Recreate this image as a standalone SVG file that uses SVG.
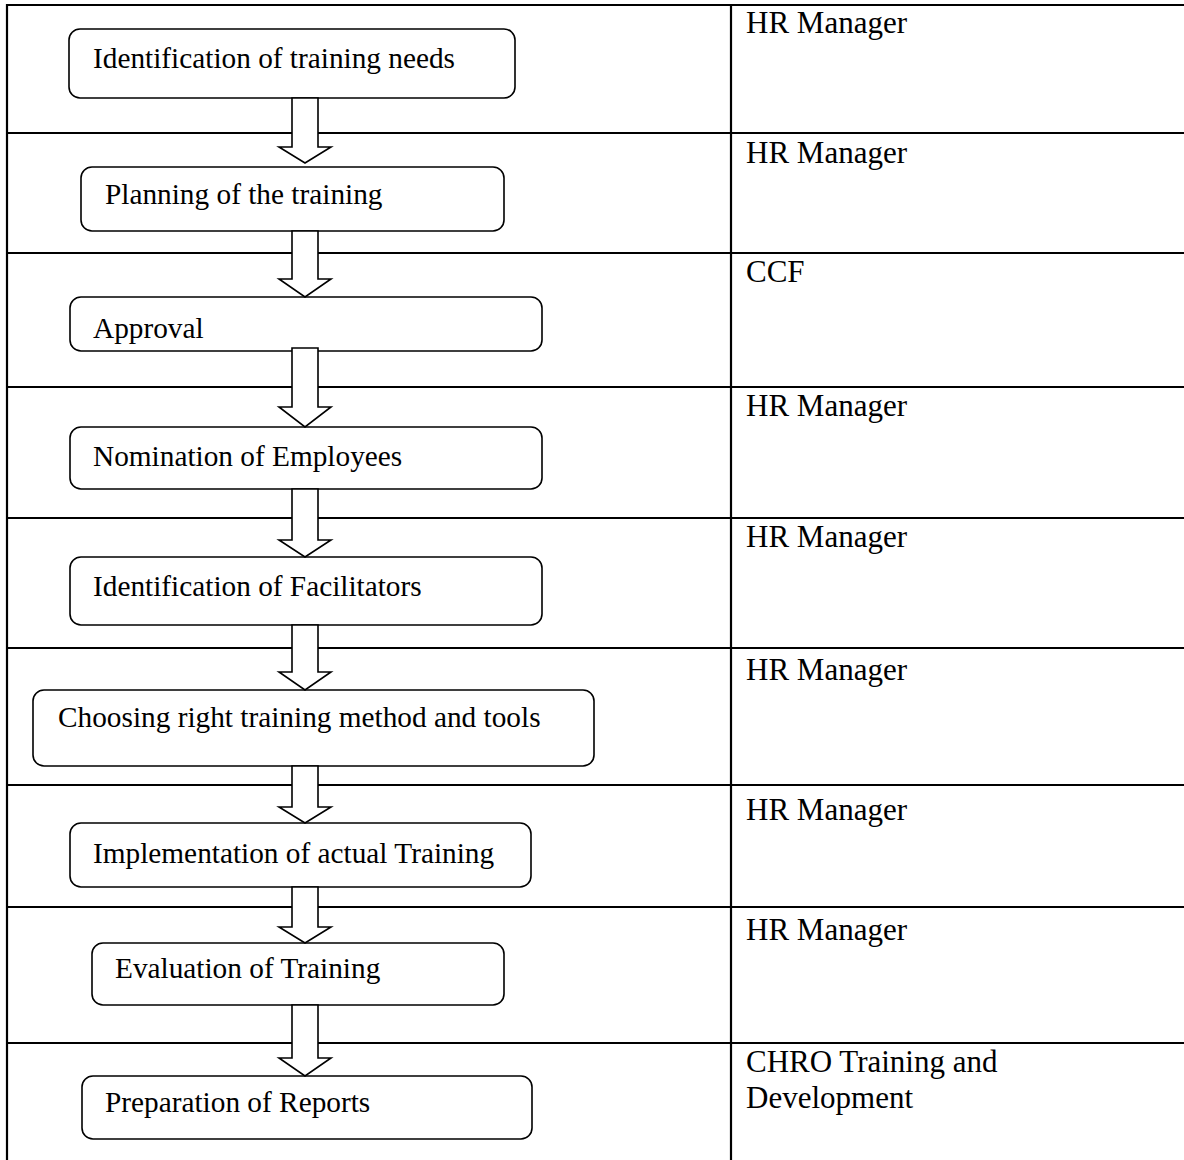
<svg xmlns="http://www.w3.org/2000/svg" width="1184" height="1160" viewBox="0 0 1184 1160">
<style>
.grid{stroke:#000;stroke-width:2.2;fill:none}
.box{fill:#fff;stroke:#000;stroke-width:1.6}
.arr{fill:#fff;stroke:#000;stroke-width:1.6;stroke-linejoin:miter}
.t{font-family:"Liberation Serif","Times New Roman",serif;font-size:29.3px;fill:#000}
.r{font-family:"Liberation Serif","Times New Roman",serif;font-size:31px;fill:#000}
</style>
<rect width="1184" height="1160" fill="#fff"/>
<g id="table">
<path class="grid" d="M7,5 H1184 M7,4 V1160 M731,4 V1160 M7,133 H1184 M7,253 H1184 M7,387 H1184 M7,518 H1184 M7,648 H1184 M7,785 H1184 M7,907 H1184 M7,1043 H1184"/>
</g>
<g id="roles">
<text class="r" x="746" y="33">HR Manager</text>
<text class="r" x="746" y="163">HR Manager</text>
<text class="r" x="746" y="282">CCF</text>
<text class="r" x="746" y="416">HR Manager</text>
<text class="r" x="746" y="547">HR Manager</text>
<text class="r" x="746" y="680">HR Manager</text>
<text class="r" x="746" y="820">HR Manager</text>
<text class="r" x="746" y="940">HR Manager</text>
<text class="r" x="746" y="1072">CHRO Training and</text>
<text class="r" x="746" y="1108">Development</text>
</g>
<g id="n1"><rect class="box" x="69" y="29" width="446" height="69" rx="11"/><text class="t" x="93" y="68">Identification of training needs</text></g>
<g id="n2"><rect class="box" x="81" y="167" width="423" height="64" rx="11"/><text class="t" x="105" y="204">Planning of the training</text></g>
<g id="n3"><rect class="box" x="70" y="297" width="472" height="54" rx="11"/><text class="t" x="93" y="338">Approval</text></g>
<g id="n4"><rect class="box" x="70" y="427" width="472" height="62" rx="11"/><text class="t" x="93" y="466">Nomination of Employees</text></g>
<g id="n5"><rect class="box" x="70" y="557" width="472" height="68" rx="11"/><text class="t" x="93" y="596">Identification of Facilitators</text></g>
<g id="n6"><rect class="box" x="33" y="690" width="561" height="76" rx="11"/><text class="t" x="58" y="727">Choosing right training method and tools</text></g>
<g id="n7"><rect class="box" x="70" y="823" width="461" height="64" rx="11"/><text class="t" x="93" y="863">Implementation of actual Training</text></g>
<g id="n8"><rect class="box" x="92" y="943" width="412" height="62" rx="11"/><text class="t" x="115" y="978">Evaluation of Training</text></g>
<g id="n9"><rect class="box" x="82" y="1076" width="450" height="63" rx="11"/><text class="t" x="105" y="1112">Preparation of Reports</text></g>
<g id="connectors">
<polygon class="arr" points="292,98 318,98 318,147 331,147 305,163 279,147 292,147"/>
<polygon class="arr" points="292,231 318,231 318,279 331,279 305,297 279,279 292,279"/>
<polygon class="arr" points="292,348 318,348 318,407 331,407 305,427 279,407 292,407"/>
<polygon class="arr" points="292,489 318,489 318,540 331,540 305,557 279,540 292,540"/>
<polygon class="arr" points="292,625 318,625 318,672 331,672 305,690 279,672 292,672"/>
<polygon class="arr" points="292,766 318,766 318,807 331,807 305,823 279,807 292,807"/>
<polygon class="arr" points="292,887 318,887 318,927 331,927 305,943 279,927 292,927"/>
<polygon class="arr" points="292,1005 318,1005 318,1058 331,1058 305,1076 279,1058 292,1058"/>
</g>
</svg>
